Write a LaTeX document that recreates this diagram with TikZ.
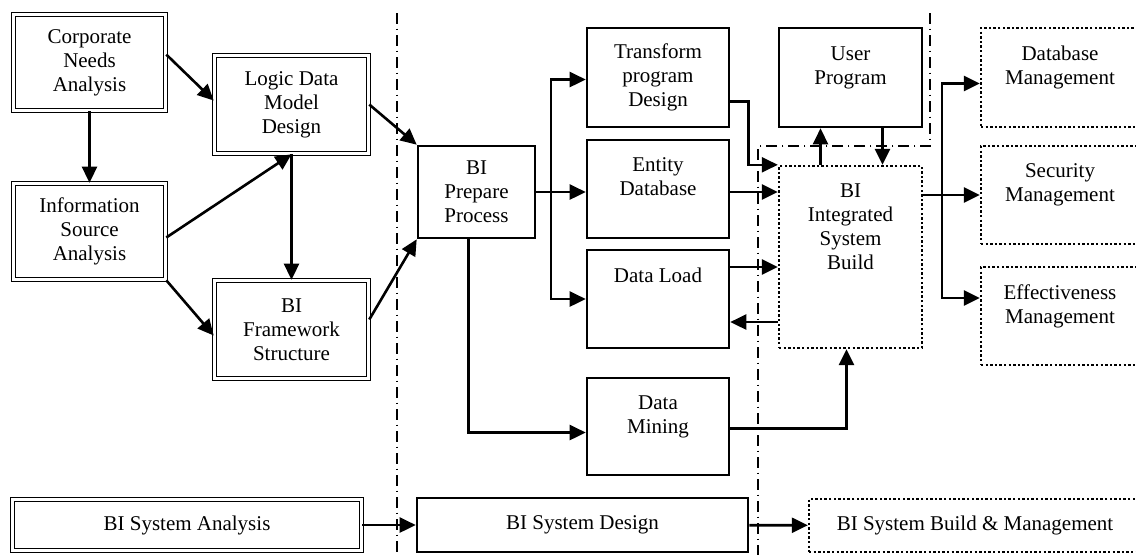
\documentclass[tikz,border=0pt]{standalone}
\usepackage{fontspec}
\setmainfont{Liberation Serif}
\usetikzlibrary{arrows.meta}

\begin{document}
\begin{tikzpicture}[line join=miter,x=0.5pt,y=-0.5pt,
  >={Triangle[length=8pt,width=7.5pt]},
  every node/.style={font=\fontsize{10.5}{12}\selectfont,align=center,inner sep=0pt},
  plainbox/.style={draw,line width=1.3pt,fill=white},
  dblbox/.style={draw,line width=0.8pt,double distance=1.2pt},
  dotbox/.style={draw,line width=1.2pt,dash pattern=on 1.2pt off 1.1pt},
  link/.style={->,line width=1.3pt},
  divider/.style={line width=0.8pt,dash pattern=on 5.5pt off 2.3pt on 0.8pt off 2.4pt}]
\clip (0,0) rectangle (1136,554);
% phase boundaries
\draw [divider] (397,13) -- (397,560);
\draw [divider] (930,13) -- (930,146) -- (758,146) -- (758,560);
% analysis
\node [dblbox,minimum width=76pt,minimum height=48pt] (cna) at (89.5,62.5) {Corporate\\Needs\\Analysis};
\node [dblbox,minimum width=76pt,minimum height=48pt] (isa) at (89.5,231.5) {Information\\Source\\Analysis};
\node [dblbox,minimum width=77pt,minimum height=49pt] (ldm) at (291.5,104.5) {Logic Data\\Model\\Design};
\node [dblbox,minimum width=77pt,minimum height=49pt] (bfs) at (291.5,329.5) {BI\\Framework\\Structure};
% design
\node [plainbox,minimum width=58.5pt,minimum height=46pt] (bpp) at (476.5,192) {BI\\Prepare\\Process};
\node [plainbox,minimum width=71pt,minimum height=49.5pt] (tpd) at (658,77.5) {Transform\\program\\Design};
\node [plainbox,minimum width=71pt,minimum height=49pt] (edb) at (658,189) {Entity\\Database\\\mbox{}};
\node [plainbox,minimum width=71pt,minimum height=49pt] (dld) at (658,299) {Data Load\\\mbox{}\\\mbox{}};
\node [plainbox,minimum width=71pt,minimum height=48.5pt] (dmn) at (658,426.5) {Data\\Mining\\\mbox{}};
% build & management
\node [plainbox,minimum width=71.5pt,minimum height=49.5pt] (usp) at (850.5,77.5) {User\\Program\\\mbox{}};
\node [dotbox,minimum width=71.5pt,minimum height=91pt] (bis) at (850.5,257) {BI\\Integrated\\System\\Build\\[18pt]\mbox{}};
\node [dotbox,minimum width=79pt,minimum height=49.5pt] (dbm) at (1060,77.5) {Database\\Management\\\mbox{}};
\node [dotbox,minimum width=79pt,minimum height=49pt] (sem) at (1060,195) {Security\\Management\\\mbox{}};
\node [dotbox,minimum width=79pt,minimum height=49pt] (efm) at (1060,316) {Effectiveness\\Management\\\mbox{}};
% phase row
\node [dblbox,minimum width=174.5pt,minimum height=25.5pt] (bsa) at (187,525) {BI System Analysis};
\node [plainbox,minimum width=165.5pt,minimum height=27pt] (bsd) at (582.5,525) {BI System Design};
\node [dotbox,minimum width=166pt,minimum height=26.5pt] (bsb) at (975,525.5) {BI System Build \& Management};

\draw [link] ([yshift=4pt]cna.east) -- ([yshift=2pt]ldm.west);
\draw [link] (cna) -- (isa);
\draw [link] ([yshift=-3pt]isa.east) -- (ldm.south);
\draw [link] (ldm) -- (bfs);
\draw [link] (isa.south east) -- ([yshift=-3pt]bfs.west);
\draw [link] (ldm.east) -- (bpp.north west);
\draw [link] ([yshift=5pt]bfs.east) -- (bpp.south west);

\coordinate (fork) at (551,192);
\draw [link] (bpp.east) -- (bpp.east -| edb.west);
\draw [link] (fork) |- ([yshift=-1pt]tpd.west);
\draw [link] (fork) |- (dld.west);
\draw [link] ([xshift=-4pt]bpp.south) |- ([yshift=-3pt]dmn.west);

\draw [link] ([yshift=-12pt]tpd.east) -- ++(9pt,0) |- (bis.north west);
\draw [link] (bpp.east -| edb.east) -- (bpp.east -| bis.west);
\path ([yshift=16pt]dld.east) coordinate (dlout);
\path ([yshift=-11.5pt]dld.east) coordinate (dlin);
\draw [link] (dlout) -- (dlout -| bis.west);
\draw [link] (dlin -| bis.west) -- (dlin);
\draw [link] ([yshift=-1pt]dmn.east) -| ([xshift=-2pt]bis.south);
\draw [link] ([xshift=-15pt]bis.north) -- ([xshift=-15pt]usp.south);
\draw [link] ([xshift=16pt]usp.south) -- ([xshift=16pt]bis.north);

\coordinate (fork2) at (942,195);
\draw [link] (bis.east |- sem.west) -- (sem.west);
\draw [link] (fork2) |- ([yshift=-3pt]dbm.west);
\draw [link] (fork2) |- ([yshift=9pt]efm.west);

\draw [link] (bsa) -- (bsd);
\draw [link] (bsd) -- (bsb);
\end{tikzpicture}
\end{document}
